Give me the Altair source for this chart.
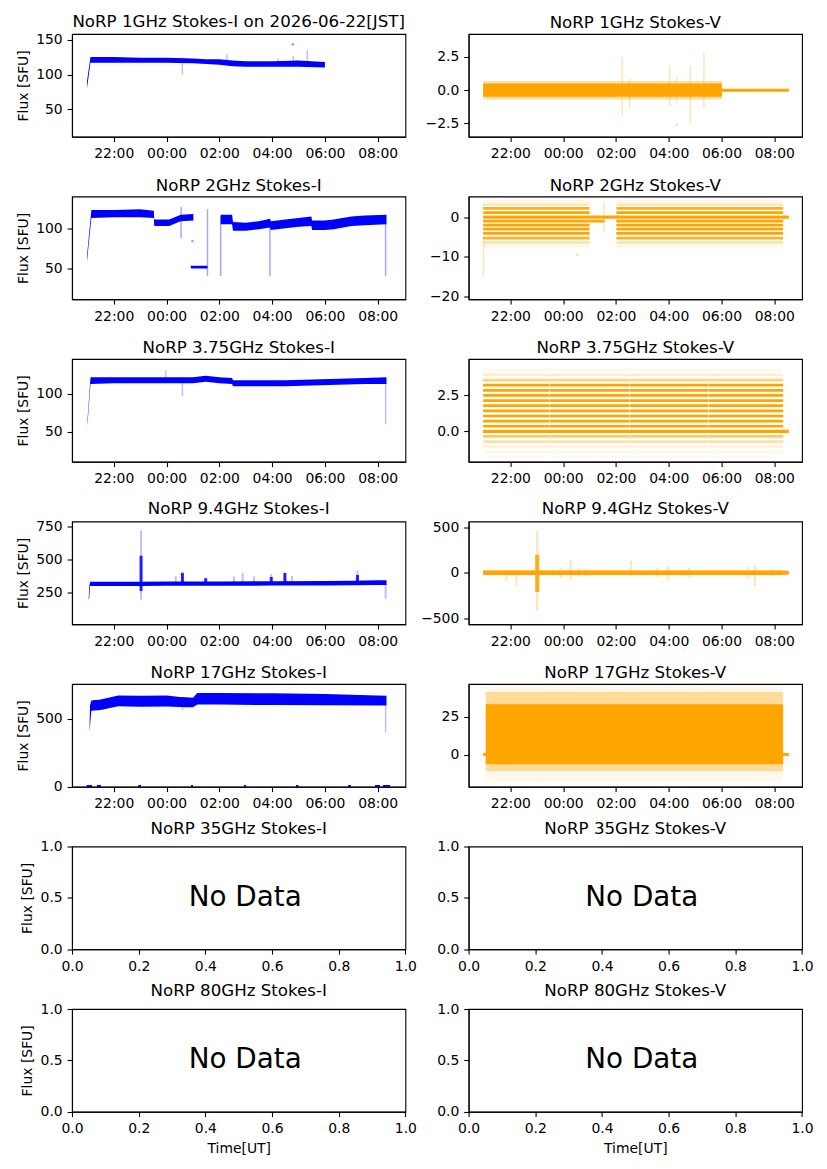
import altair as alt
import pandas as pd

W, H = 333.4, 102.7
BLUE, ORANGE = "#0000ff", "#ffa500"
FONT = "DejaVu Sans"

# x axis (UT); the JST day 2026-06-22 begins 2026-06-21 15:00 UT
X_START, X_END = "20:25", "09:03"
X_TICKS = ["22:00", "00:00", "02:00", "04:00", "06:00", "08:00"]

# ---- 1 GHz ----
I1_T = ["20:59", "21:07", "22:00", "23:00", "00:00", "01:00", "01:30", "02:00",
        "02:30", "03:00", "04:00", "05:00", "06:00"]
I1_LO = [80, 117, 117, 117, 117, 116, 115, 114, 112, 111, 111, 111, 110]
I1_HI = [90, 125, 125, 124, 124, 123, 122, 122, 120, 119, 119, 120, 118]
I1_SPIKE_T = ["00:36", "02:17", "04:14", "04:48", "05:20"]
I1_SPIKE_LO = [100, 118, 118, 118, 117]
I1_SPIKE_HI = [125, 129, 123, 126, 135]
I1_DOT_T = ["04:47"]
I1_DOT_V = [143]

V1_SPAN = ["20:58", "06:01"]
V1_CORE = [-0.5, 0.5]
V1_FRINGE = [-0.7, 0.7]
V1_ZERO = ["06:01", "08:33"]
V1_SPIKE_T = ["02:14", "02:31", "04:02", "04:18", "04:49", "05:20"]
V1_SPIKE_LO = [-1.9, -1.3, -1.2, -1.0, -2.5, -1.4]
V1_SPIKE_HI = [2.5, 0.9, 1.8, 1.0, 1.8, 2.8]
V1_DOT_T = ["04:18"]
V1_DOT_V = [-2.6]

# ---- 2 GHz ----
I2_T = ["20:59", "21:09", "22:00", "23:00", "23:31", "23:32", "00:06", "00:32", "01:01",
        "00:55", "01:33",
        "02:03", "02:29", "02:31", "03:00", "03:30", "03:55", "03:57", "04:30", "05:00",
        "05:29", "05:31", "06:00", "06:20", "07:00", "07:30", "08:20"]
I2_LO = [58, 113, 114, 114, 113, 103, 103, 109, 110,
         49.5, 49.5,
         105, 105, 97, 97, 99, 101, 98, 100, 102, 103, 98, 98, 99, 103, 104, 105]
I2_HI = [65, 123, 123, 124, 122, 111, 111, 117, 118,
         53, 53,
         117, 117, 108, 107, 109, 112, 109, 111, 113, 115, 110, 110, 111, 115, 116, 117]
I2_SEG = [0, 0, 0, 0, 0, 0, 0, 0, 0,
          1, 1,
          2, 2, 2, 2, 2, 2, 2, 2, 2, 2, 2, 2, 2, 2, 2, 2]
I2_SPIKE_T = ["00:33", "01:33", "02:03", "03:55", "08:18"]
I2_SPIKE_LO = [88, 40, 40, 40, 40]
I2_SPIKE_HI = [127, 124, 115, 110, 110]
I2_DOT_T = ["00:59"]
I2_DOT_V = [84]

V2_LEVELS = [3.98, 3.14, 2.2, 1.1, -1.02, -2.03, -3.05, -4.15, -5.34, -6.44, -7.37]
V2_ALPHA = [0.1, 0.25, 0.9, 1, 1, 1, 1, 1, 0.85, 0.3, 0.1]
V2_START = ["20:58", "02:01"]
V2_END = ["01:00", "08:20"]
V2_ZERO = ["20:58", "08:33"]
V2_GAP = ["01:00", "01:34"]
V2_GAP_LEVEL = -1.02
V2_SPIKE_T = ["20:59", "01:33"]
V2_SPIKE_LO = [-15, -4]
V2_SPIKE_HI = [-5, 4]
V2_DOT_T = ["00:32"]
V2_DOT_V = [-9.5]

# ---- 3.75 GHz ----
I3_T = ["21:00", "21:07", "22:00", "23:00", "00:00", "01:00", "01:29", "02:00", "02:29",
        "02:31", "03:30", "04:30", "05:30", "06:30", "07:30", "08:20"]
I3_LO = [58, 113, 114, 114, 114, 114, 116, 114, 113, 110, 110, 110, 111, 112, 113, 113]
I3_HI = [64, 122, 122, 122, 122, 122, 124, 122, 121, 118, 118, 118, 119, 120, 121, 122]
I3_SPIKE_T = ["23:58", "00:36", "08:18"]
I3_SPIKE_LO = [117, 97, 60]
I3_SPIKE_HI = [131, 116, 113]

V3_LEVELS = [4.25, 3.9, 3.54, 3.19, 2.83, 2.48, 2.12, 1.77, 1.42, 1.06, 0.71, 0.35,
             -0.35, -0.71, -1.06, -1.42, -1.77]
V3_ALPHA = [0.08, 0.2, 0.5, 1, 1, 1, 1, 1, 1, 1, 1, 1, 0.6, 0.35, 0.15, 0.08, 0.05]
V3_START = ["20:58", "23:30", "02:31", "05:31"]
V3_END = ["23:29", "02:30", "05:30", "08:20"]
V3_ZERO = ["20:58", "08:33"]

# ---- 9.4 GHz ----
I4_T = ["21:03", "21:04", "21:06", "22:00", "23:00", "00:00", "02:00", "04:00", "06:00",
        "07:00", "08:00", "08:20"]
I4_LO = [200, 205, 302, 302, 302, 303, 304, 305, 306, 308, 310, 310]
I4_HI = [212, 290, 335, 335, 335, 336, 337, 338, 339, 342, 345, 345]
I4_SPIKE_T = ["23:02", "00:21", "00:36", "01:29", "02:33", "02:53", "03:19", "03:58",
              "04:29", "04:45", "07:14", "08:18"]
I4_SPIKE_LO = [200, 320, 320, 320, 320, 320, 320, 320, 320, 320, 320, 205]
I4_SPIKE_HI = [720, 375, 412, 365, 375, 400, 375, 390, 405, 378, 420, 330]
I4_CORE_T = ["23:02", "00:36", "01:29", "03:58", "04:29", "07:14"]
I4_CORE_LO = [265, 325, 325, 325, 325, 325]
I4_CORE_HI = [530, 400, 360, 370, 400, 385]

V4_SPAN = ["20:58", "08:20"]
V4_CORE = [-25, 25]
V4_ZERO = ["20:58", "08:33"]
V4_SPIKE_T = ["21:51", "22:14", "23:01", "23:54", "00:17", "00:35", "00:53", "02:34",
              "03:34", "03:59", "04:29", "04:46", "07:01", "07:16", "07:58"]
V4_SPIKE_LO = [-93, -149, -418, -60, -82, -50, -40, -30, -50, -80, -30, -50, -70, -145, -40]
V4_SPIKE_HI = [30, 30, 459, 60, 142, 50, 40, 131, 50, 80, 30, 50, 70, 78, 40]
V4_FLARE_T = ["23:01"]
V4_FLARE_LO = [-213]
V4_FLARE_HI = [198]

# ---- 17 GHz ----
I5_T = ["21:05", "21:06", "21:09", "21:30", "22:10", "23:00", "00:00", "00:30", "00:45",
        "01:00", "01:10", "02:00", "04:00", "06:00", "08:20"]
I5_LO = [400, 450, 560, 565, 593, 590, 592, 588, 586, 586, 605, 605, 602, 600, 598]
I5_HI = [470, 600, 635, 642, 672, 670, 672, 662, 659, 655, 690, 690, 688, 683, 670]
I5_ZERO_START = ["20:59", "21:22", "22:57", "00:56", "02:56", "04:55", "06:54", "07:55", "08:13"]
I5_ZERO_END = ["21:10", "21:30", "23:01", "01:00", "03:00", "04:59", "06:59", "08:05", "08:27"]
I5_SPIKE_T = ["00:36", "08:18"]
I5_SPIKE_LO = [565, 400]
I5_SPIKE_HI = [600, 640]

V5_SPAN = ["21:04", "08:20"]
V5_CORE = [-6.5, 33.5]
V5_FRINGE = [-11, 41.5]
V5_OUTER = [-18, 46]
V5_ZERO = ["20:58", "08:33"]

# ---- y axes: domain, ticks, format, title ----
Y1I = ([11, 158], [50, 100, 150], "d", "Flux [SFU]")
Y1V = ([-3.5, 4.23], [-2.5, 0, 2.5], ".1f", None)
Y2I = ([11, 140], [50, 100], "d", "Flux [SFU]")
Y2V = ([-20.8, 5.2], [-20, -10, 0], "d", None)
Y3I = ([10.5, 146], [50, 100], "d", "Flux [SFU]")
Y3V = ([-2.1, 5.0], [0, 2.5], ".1f", None)
Y4I = ([13, 790], [250, 500, 750], "d", "Flux [SFU]")
Y4V = ([-566, 562], [-500, 0, 500], "d", None)
Y5I = ([0, 757], [0, 500], "d", "Flux [SFU]")
Y5V = ([-21.4, 46.9], [0, 25], "d", None)

NODATA_XTICKS = [0.0, 0.2, 0.4, 0.6, 0.8, 1.0]
NODATA_YTICKS = [0.0, 0.5, 1.0]
NODATA_POS = [0.35, 0.5]


def ut(hm):
    day = "2026-06-21" if int(hm[:2]) >= 12 else "2026-06-22"
    return f"{day}T{hm}:00Z"


def dt(hm):
    h, m = int(hm[:2]), int(hm[3:])
    return alt.DateTime(year=2026, month=6, date=21 if h >= 12 else 22,
                        hours=h, minutes=m, utc=True)


def xenc():
    return alt.X("t:T",
                 scale=alt.Scale(type="utc", domain=[dt(X_START), dt(X_END)]),
                 axis=alt.Axis(values=[dt(v) for v in X_TICKS], format="%H:%M", title=None))


def yenc(field, cfg):
    dom, ticks, fmt, title = cfg
    return alt.Y(f"{field}:Q",
                 scale=alt.Scale(domain=dom, nice=False, zero=False),
                 axis=alt.Axis(values=ticks, format=fmt, title=title))


def band(ts, lo, hi, color, cfg, seg=None, opacity=1.0):
    df = pd.DataFrame({"t": [ut(v) for v in ts], "lo": lo, "hi": hi,
                       "seg": seg if seg else [0] * len(ts)})
    return alt.Chart(df).mark_area(color=color, opacity=opacity, clip=True).encode(
        x=xenc(), y=yenc("lo", cfg), y2="hi:Q", detail="seg:N")


def slab(span, rng, color, cfg, opacity=1.0):
    df = pd.DataFrame({"t": [ut(span[0])], "t2": [ut(span[1])], "lo": [rng[0]], "hi": [rng[1]]})
    return alt.Chart(df).mark_rect(color=color, opacity=opacity, clip=True).encode(
        x=xenc(), x2="t2:T", y=yenc("lo", cfg), y2="hi:Q")


def spikes(ts, lo, hi, color, cfg, opacity=0.3, width=1.5):
    df = pd.DataFrame({"t": [ut(v) for v in ts], "lo": lo, "hi": hi})
    return alt.Chart(df).mark_rule(color=color, opacity=opacity, strokeWidth=width,
                                   clip=True).encode(
        x=xenc(), y=yenc("lo", cfg), y2="hi:Q")


def hlines(starts, ends, levels, alphas, color, cfg, width=2.7):
    rows = [{"t": ut(s), "t2": ut(e), "v": v, "a": a}
            for s, e in zip(starts, ends) for v, a in zip(levels, alphas)]
    return alt.Chart(pd.DataFrame(rows)).mark_rule(color=color, strokeWidth=width,
                                                   clip=True).encode(
        x=xenc(), x2="t2:T", y=yenc("v", cfg), opacity=alt.Opacity("a:Q", scale=None))


def dots(ts, vals, color, cfg, opacity=0.35):
    df = pd.DataFrame({"t": [ut(v) for v in ts], "v": vals})
    return alt.Chart(df).mark_circle(color=color, size=8, opacity=opacity, clip=True).encode(
        x=xenc(), y=yenc("v", cfg))


def panel(layers, title):
    return alt.layer(*layers).properties(width=W, height=H, title=title)


def no_data(title, ytitle, xtitle):
    df = pd.DataFrame({"x": [NODATA_POS[0]], "y": [NODATA_POS[1]], "s": ["No Data"]})
    return alt.Chart(df).mark_text(align="left", baseline="middle", fontSize=27.8,
                                   font=FONT, color="black").encode(
        x=alt.X("x:Q", scale=alt.Scale(domain=[0, 1], nice=False),
                axis=alt.Axis(values=NODATA_XTICKS, format=".1f", title=xtitle)),
        y=alt.Y("y:Q", scale=alt.Scale(domain=[0, 1], nice=False),
                axis=alt.Axis(values=NODATA_YTICKS, format=".1f", title=ytitle)),
        text="s:N",
    ).properties(width=W, height=H, title=title)


p1i = panel([band(I1_T, I1_LO, I1_HI, BLUE, Y1I),
             spikes(I1_SPIKE_T, I1_SPIKE_LO, I1_SPIKE_HI, BLUE, Y1I, 0.25),
             dots(I1_DOT_T, I1_DOT_V, BLUE, Y1I)],
            "NoRP 1GHz Stokes-I on 2026-06-22[JST]")
p1v = panel([slab(V1_SPAN, V1_FRINGE, ORANGE, Y1V, 0.35),
             slab(V1_SPAN, V1_CORE, ORANGE, Y1V),
             hlines([V1_ZERO[0]], [V1_ZERO[1]], [0], [1], ORANGE, Y1V, 3),
             spikes(V1_SPIKE_T, V1_SPIKE_LO, V1_SPIKE_HI, ORANGE, Y1V, 0.3),
             dots(V1_DOT_T, V1_DOT_V, ORANGE, Y1V)],
            "NoRP 1GHz Stokes-V")

p2i = panel([band(I2_T, I2_LO, I2_HI, BLUE, Y2I, seg=I2_SEG),
             spikes(I2_SPIKE_T, I2_SPIKE_LO, I2_SPIKE_HI, BLUE, Y2I, 0.35),
             dots(I2_DOT_T, I2_DOT_V, BLUE, Y2I)],
            "NoRP 2GHz Stokes-I")
p2v = panel([hlines(V2_START, V2_END, V2_LEVELS, V2_ALPHA, ORANGE, Y2V, 2.8),
             hlines([V2_GAP[0]], [V2_GAP[1]], [V2_GAP_LEVEL], [1], ORANGE, Y2V, 2.8),
             hlines([V2_ZERO[0]], [V2_ZERO[1]], [0], [1], ORANGE, Y2V, 3.2),
             spikes(V2_SPIKE_T, V2_SPIKE_LO, V2_SPIKE_HI, ORANGE, Y2V, 0.3),
             dots(V2_DOT_T, V2_DOT_V, ORANGE, Y2V)],
            "NoRP 2GHz Stokes-V")

p3i = panel([band(I3_T, I3_LO, I3_HI, BLUE, Y3I),
             spikes(I3_SPIKE_T, I3_SPIKE_LO, I3_SPIKE_HI, BLUE, Y3I, 0.25)],
            "NoRP 3.75GHz Stokes-I")
p3v = panel([hlines(V3_START, V3_END, V3_LEVELS, V3_ALPHA, ORANGE, Y3V, 2.7),
             hlines([V3_ZERO[0]], [V3_ZERO[1]], [0], [1], ORANGE, Y3V, 3.2)],
            "NoRP 3.75GHz Stokes-V")

p4i = panel([band(I4_T, I4_LO, I4_HI, BLUE, Y4I),
             spikes(I4_SPIKE_T, I4_SPIKE_LO, I4_SPIKE_HI, BLUE, Y4I, 0.25, 2),
             spikes(I4_CORE_T, I4_CORE_LO, I4_CORE_HI, BLUE, Y4I, 0.85, 3)],
            "NoRP 9.4GHz Stokes-I")
p4v = panel([slab(V4_SPAN, V4_CORE, ORANGE, Y4V),
             hlines([V4_ZERO[0]], [V4_ZERO[1]], [0], [1], ORANGE, Y4V, 4),
             spikes(V4_SPIKE_T, V4_SPIKE_LO, V4_SPIKE_HI, ORANGE, Y4V, 0.3, 2),
             spikes(V4_FLARE_T, V4_FLARE_LO, V4_FLARE_HI, ORANGE, Y4V, 0.9, 4)],
            "NoRP 9.4GHz Stokes-V")

p5i = panel([band(I5_T, I5_LO, I5_HI, BLUE, Y5I),
             hlines(I5_ZERO_START, I5_ZERO_END, [0] * len(I5_ZERO_START),
                    [1] * len(I5_ZERO_START), BLUE, Y5I, 3),
             spikes(I5_SPIKE_T, I5_SPIKE_LO, I5_SPIKE_HI, BLUE, Y5I, 0.25)],
            "NoRP 17GHz Stokes-I")
p5v = panel([slab(V5_SPAN, V5_OUTER, ORANGE, Y5V, 0.08),
             slab(V5_SPAN, V5_FRINGE, ORANGE, Y5V, 0.35),
             slab(V5_SPAN, V5_CORE, ORANGE, Y5V),
             hlines([V5_ZERO[0]], [V5_ZERO[1]], [0], [1], ORANGE, Y5V, 3)],
            "NoRP 17GHz Stokes-V")

p6i = no_data("NoRP 35GHz Stokes-I", "Flux [SFU]", None)
p6v = no_data("NoRP 35GHz Stokes-V", None, None)
p7i = no_data("NoRP 80GHz Stokes-I", "Flux [SFU]", "Time[UT]")
p7v = no_data("NoRP 80GHz Stokes-V", None, "Time[UT]")

chart = alt.concat(
    p1i, p1v, p2i, p2v, p3i, p3v, p4i, p4v, p5i, p5v, p6i, p6v, p7i, p7v,
    columns=2, spacing={"row": 59.5, "column": 62.6}, bounds="flush",
).properties(
    padding={"left": 7, "top": 5, "right": 5, "bottom": 5},
    background="white",
).configure(
    font=FONT
).configure_view(
    stroke="black", strokeWidth=1.1
).configure_axis(
    grid=False, domainColor="black", domainWidth=1.1, tickColor="black",
    tickWidth=1.1, tickSize=4.9, labelPadding=4.9, labelFlush=False,
    labelFont=FONT, labelFontSize=13.9, labelColor="black",
    titleFont=FONT, titleFontSize=13.9, titleFontWeight="normal",
    titleColor="black", titlePadding=5.6,
).configure_title(
    font=FONT, fontSize=16.67, fontWeight="normal", color="black",
    anchor="middle", frame="group", offset=2, baseline="alphabetic",
)

chart.save("out.html", embed_options={"renderer": "svg", "actions": False})
